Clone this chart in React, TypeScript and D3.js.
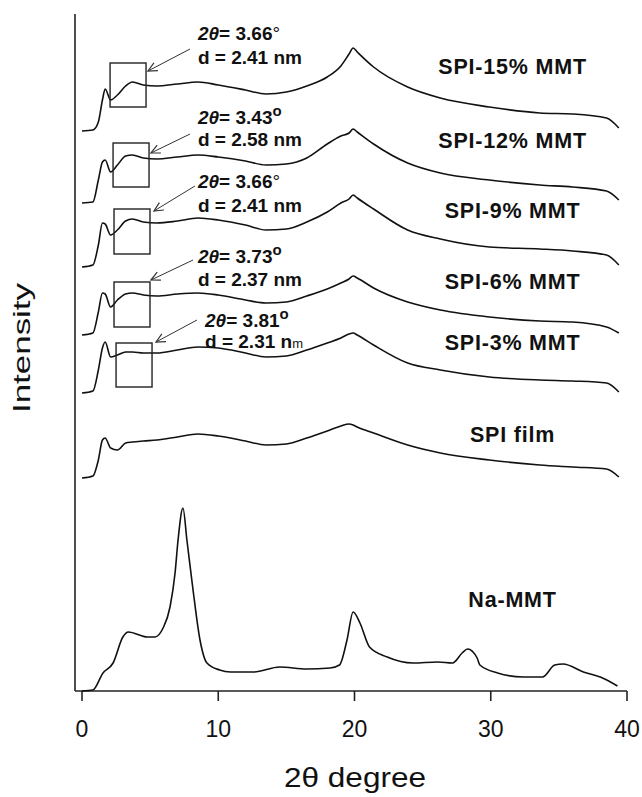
import React from "react";
import * as d3 from "d3";

// 2θ grid shared by the SPI film / SPI-MMT patterns
const spiTheta = [0, 0.8, 1.2, 1.5, 1.7, 2.1, 2.6, 3.2, 3.7, 4.5, 5.5, 7, 8.5, 10, 12, 13.5, 15, 16.5, 18, 19, 19.6, 19.9, 20.2, 21.4, 23.9, 26.3, 29.9, 33.6, 36, 38.5, 39.4];

// stacked intensities (a.u.)
const spi15 = [560, 561, 569, 591, 602, 591, 596, 605, 609, 606, 605, 607, 609, 606, 601, 597, 599, 605, 614, 625, 637, 643, 639, 624, 604, 593, 584, 578, 577, 573, 563];
const spi12 = [488, 489, 511, 529, 531, 519, 526, 535, 536, 533, 532, 534, 536, 534, 530, 526, 527, 533, 547, 555, 558, 562, 559, 547, 528, 518, 511, 506, 504, 500, 491];
const spi9 = [424, 426, 446, 468, 467, 456, 461, 470, 472, 469, 468, 470, 473, 471, 466, 461, 462, 469, 479, 488, 492, 496, 493, 482, 461, 452, 444, 442, 440, 436, 426];
const spi6 = [356, 358, 379, 398, 397, 384, 391, 397, 398, 396, 395, 397, 398, 396, 391, 388, 389, 395, 402, 408, 412, 415, 413, 403, 389, 381, 374, 370, 369, 364, 358];
const spi3 = [298, 300, 321, 343, 349, 334, 336, 339, 339, 338, 338, 341, 344, 343, 338, 334, 335, 341, 348, 353, 357, 358, 356, 346, 328, 321, 314, 311, 310, 308, 299];
const spiFilm = [213, 215, 231, 251, 253, 243, 241, 248, 249, 250, 251, 254, 257, 255, 250, 246, 247, 253, 260, 265, 267, 266, 264, 258, 246, 238, 231, 226, 224, 222, 214];

const naTheta = [0, 0.8, 1.54, 2.28, 3.0, 3.4, 4.8, 5.36, 5.95, 6.46, 6.83, 7.05, 7.41, 7.7, 8.15, 8.66, 9.17, 10.1, 10.9, 12.6, 14.5, 16.5, 18.2, 18.9, 19.45, 19.9, 20.4, 21.1, 22.4, 24.3, 26.1, 27.2, 27.9, 28.3, 29.0, 29.2, 30.5, 32.4, 33.8, 34.7, 35.3, 36.8, 38.2, 39.3];
const naMMT = [0, 1, 18, 28, 54, 59, 54, 54, 63, 84, 118, 151, 183, 151, 101, 51, 28, 21, 19, 19, 24, 22, 23, 26, 51, 79, 68, 44, 34, 28, 29, 28, 38, 42, 33, 26, 18, 14, 14, 26, 27, 19, 13, 5];

const seriesNames = ["SPI-15% MMT", "SPI-12% MMT", "SPI-9% MMT", "SPI-6% MMT", "SPI-3% MMT", "SPI film", "Na-MMT"];
const labelLevels = [617, 543, 473, 402, 341, 249, 84];

// annotations of the low-angle peak
const peakAngles = ["3.66", "3.43", "3.66", "3.73", "3.81"];
const dSpacings = ["2.41", "2.58", "2.41", "2.37", "2.31"];
const boldDegree = [false, true, false, true, true];
const boxTheta = [[2.06, 4.7], [2.28, 4.92], [2.35, 4.99], [2.35, 4.99], [2.5, 5.14]];
const boxLevels = [[584, 628], [504, 548], [437, 482], [364, 409], [304, 348]];
const arrowFrom = [[7.93, 642], [7.93, 557], [8.29, 505], [8.15, 431], [8.44, 371]];
const arrowTo = [[4.84, 620], [5.06, 538], [5.28, 480], [5.06, 411], [5.43, 349]];
const noteAt = [[8.51, 651, 627], [8.51, 567, 545], [8.51, 503, 479], [8.51, 428, 405], [9.03, 364, 343]];

const xTicks = [0, 10, 20, 30, 40];

const W = 642, H = 797;
const FONT = "'Liberation Sans', Arial, sans-serif";

export default function App() {
	const x = d3.scaleLinear().domain([0, 40]).range([82, 627]);
	const y = d3.scaleLinear().domain([0, 677]).range([691, 14]);
	const line = d3
		.line<[number, number]>()
		.x((d) => x(d[0]))
		.y((d) => y(d[1]))
		.curve(d3.curveMonotoneX);

	const spiSeries = [spi15, spi12, spi9, spi6, spi3, spiFilm];
	const paths = spiSeries.map((s) => line(spiTheta.map((t, i) => [t, s[i]]) as [number, number][]));
	paths.push(line(naTheta.map((t, i) => [t, naMMT[i]]) as [number, number][]));

	const x0 = 75, yBase = y(0);

	return (
		<svg width={W} height={H} style={{ position: "absolute", left: 0, top: 0, background: "#fff" }}>
			{/* axes */}
			<line x1={x0} x2={x0} y1={14} y2={yBase} stroke="#222" strokeWidth={1.6} />
			<line x1={x0} x2={x(40)} y1={yBase} y2={yBase} stroke="#222" strokeWidth={1.6} />
			{xTicks.map((t) => (
				<g key={t}>
					<line x1={x(t)} x2={x(t)} y1={yBase} y2={yBase + 10} stroke="#222" strokeWidth={1.6} />
					<text x={x(t)} y={737} textAnchor="middle" fontFamily={FONT} fontSize={23} fill="#111">
						{t}
					</text>
				</g>
			))}
			<text x={355} y={787} textAnchor="middle" fontFamily={FONT} fontSize={28} fill="#111" textLength={142} lengthAdjust="spacingAndGlyphs">
				2θ degree
			</text>
			<text transform="translate(30,348) rotate(-90)" textAnchor="middle" fontFamily={FONT} fontSize={24} fill="#111" textLength={130} lengthAdjust="spacingAndGlyphs">
				Intensity
			</text>

			{/* patterns */}
			{paths.map((p, i) => (
				<path key={i} d={p || ""} fill="none" stroke="#111" strokeWidth={1.6} strokeLinejoin="round" />
			))}

			{seriesNames.map((n, i) => (
				<text key={n} x={x(31.6)} y={y(labelLevels[i])} textAnchor="middle" fontFamily={FONT} fontWeight="bold" fontSize={21.5} letterSpacing={0.8} fill="#111">
					{n}
				</text>
			))}

			{/* boxes, arrows and notes */}
			{peakAngles.map((a, i) => {
				const bx = x(boxTheta[i][0]), bw = x(boxTheta[i][1]) - bx;
				const by = y(boxLevels[i][1]), bh = y(boxLevels[i][0]) - by;
				const fx = x(arrowFrom[i][0]), fy = y(arrowFrom[i][1]);
				const tx = x(arrowTo[i][0]), ty = y(arrowTo[i][1]);
				const ang = Math.atan2(fy - ty, fx - tx);
				const hl = 10, hw = 0.45;
				const h1 = [tx + hl * Math.cos(ang + hw), ty + hl * Math.sin(ang + hw)];
				const h2 = [tx + hl * Math.cos(ang - hw), ty + hl * Math.sin(ang - hw)];
				const nx = x(noteAt[i][0]);
				return (
					<g key={i}>
						<rect x={bx} y={by} width={bw} height={bh} fill="none" stroke="#222" strokeWidth={1.4} />
						<line x1={fx} y1={fy} x2={tx} y2={ty} stroke="#333" strokeWidth={1} />
						<polyline points={`${h1[0]},${h1[1]} ${tx},${ty} ${h2[0]},${h2[1]}`} fill="none" stroke="#333" strokeWidth={1.2} />
						<text x={nx} y={y(noteAt[i][1])} fontFamily={FONT} fontWeight="bold" fontSize={19} fill="#111">
							<tspan fontStyle="italic">2θ</tspan>
							<tspan>= {a}</tspan>
							{boldDegree[i] ? (
								<tspan fontSize={15} dy={-8} fontWeight="bold">o</tspan>
							) : (
								<tspan fontWeight="normal">°</tspan>
							)}
						</text>
						<text x={nx} y={y(noteAt[i][2])} fontFamily={FONT} fontWeight="bold" fontSize={19} fill="#111">
							{i === 4 ? (
								<>
									d = {dSpacings[i]} n<tspan fontSize={13} fontWeight="normal">m</tspan>
								</>
							) : (
								`d = ${dSpacings[i]} nm`
							)}
						</text>
					</g>
				);
			})}
		</svg>
	);
}
